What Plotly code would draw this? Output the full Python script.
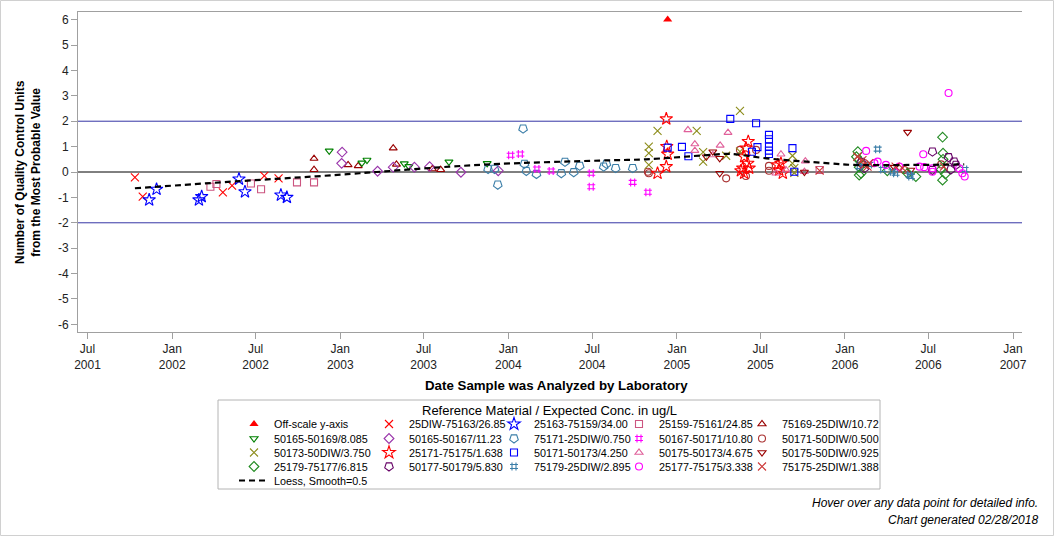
import plotly.graph_objects as go

# ---------------- data ----------------
offscale_x = ["2004-12-12"]
offscale_y = [6.0]

x_25diw_75163 = ["2001-10-12", "2001-10-29", "2002-04-21", "2002-05-11", "2002-07-20", "2002-08-20"]
y_25diw_75163 = [-0.21, -0.97, -0.80, -0.54, -0.15, -0.25]

x_25163_75159 = ["2001-11-12", "2001-11-28", "2002-02-28", "2002-03-06", "2002-05-26", "2002-06-08",
                 "2002-08-25", "2002-09-07"]
y_25163_75159 = [-1.10, -0.68, -1.10, -0.97, -0.28, -0.78, -0.91, -1.00]

x_25159_75161 = ["2002-03-25", "2002-04-07", "2002-06-21", "2002-07-13", "2002-09-29", "2002-11-05", "2005-11-07"]
y_25159_75161 = [-0.58, -0.47, -0.45, -0.68, -0.41, -0.41, 0.08]

x_75169_25diw = ["2002-11-05", "2002-11-05", "2003-01-18", "2003-02-09", "2003-04-26", "2003-05-03",
                 "2003-07-20", "2003-08-07"]
y_75169_25diw = [0.53, 0.09, 0.28, 0.24, 0.94, 0.30, 0.12, 0.09]

x_50165_50169 = ["2002-12-08", "2003-02-17", "2003-02-28", "2003-05-20", "2003-05-30", "2003-08-25", "2003-11-16"]
y_50165_50169 = [0.83, 0.36, 0.47, 0.33, 0.22, 0.40, 0.34]

x_50165_50167 = ["2003-01-05", "2003-01-04", "2003-03-23", "2003-04-26", "2003-06-11", "2003-07-14",
                 "2003-09-20", "2003-12-10"]
y_50165_50167 = [0.78, 0.34, 0.03, 0.19, 0.19, 0.21, -0.01, 0.05]

x_75171_25diw = ["2003-11-18", "2003-12-02", "2003-12-09", "2004-02-02", "2004-02-05", "2004-02-09",
                 "2004-03-02", "2004-04-25", "2004-05-03", "2004-05-22", "2004-06-04", "2004-07-26",
                 "2004-08-01", "2004-08-21", "2004-09-27"]
y_75171_25diw = [0.12, 0.12, -0.50, 1.71, 0.32, 0.04, -0.08, -0.05, 0.40, -0.01, 0.24, 0.21, 0.32, 0.15, 0.15]

x_50167_50171 = ["2004-01-06", "2004-01-27", "2004-03-03", "2004-04-03", "2004-06-29", "2004-06-29",
                 "2004-09-27", "2004-10-30"]
y_50167_50171 = [0.66, 0.71, 0.12, 0.04, -0.05, -0.58, -0.41, -0.80]

x_50171_50diw = ["2004-10-30", "2004-11-01", "2005-04-18", "2005-05-18", "2005-05-31", "2005-06-22",
                 "2005-07-20", "2005-07-20", "2006-02-08", "2006-05-10", "2006-07-29"]
y_50171_50diw = [0.01, -0.05, -0.25, 0.87, -0.16, 0.87, 0.24, 0.05, 0.30, 0.08, 0.30]

x_50173_50diw = ["2004-11-01", "2004-11-01", "2004-11-01", "2004-11-20", "2005-02-13", "2005-02-27",
                 "2005-02-27", "2005-04-18", "2005-05-18", "2005-05-18", "2005-09-09", "2005-09-09",
                 "2005-09-13", "2005-09-13"]
y_50173_50diw = [1.00, 0.74, 0.28, 1.62, 1.62, 0.78, 0.41, 0.64, 2.41, 0.80, 0.64, 0.34, 0.15, -0.03]

x_25171_75175 = ["2004-11-20", "2004-12-09", "2004-12-09", "2004-12-10", "2004-12-12", "2005-05-20",
                 "2005-05-24", "2005-05-27", "2005-05-27", "2005-05-31", "2005-06-04", "2005-06-05",
                 "2005-06-07", "2005-08-08", "2005-08-11", "2005-08-15", "2005-08-19"]
y_25171_75175 = [-0.05, 2.09, 0.21, 1.00, 0.70, 0.05, 0.15, 0.60, -0.05, 0.94, 0.34, 1.20, 0.15,
                 0.28, 0.08, 0.34, -0.05]

x_50171_50173 = ["2004-12-12", "2005-01-12", "2005-01-26", "2005-04-27", "2005-06-13", "2005-06-22",
                 "2005-06-25", "2005-07-20", "2005-07-20", "2005-07-20", "2005-07-20", "2005-07-20",
                 "2005-09-09", "2005-09-13"]
y_50171_50173 = [0.96, 0.99, 0.62, 2.09, 0.80, 1.92, 0.98, 1.46, 1.29, 1.00, 0.84, 0.71, 0.94, 0.01]

x_50175_50173 = ["2005-01-25", "2005-02-09", "2005-02-09", "2005-03-20", "2005-04-05", "2005-04-22",
                 "2005-08-04", "2005-08-15", "2005-08-26", "2005-10-05", "2005-10-07"]
y_50175_50173 = [1.66, 1.10, 0.84, 0.67, 1.05, 1.55, -0.05, 0.70, 0.08, 0.01, 0.43]

x_50175_50diw = ["2005-03-06", "2005-03-20", "2005-04-04", "2005-04-04", "2005-10-05", "2006-04-18",
                 "2006-05-17", "2006-05-24"]
y_50175_50diw = [0.60, 0.80, 0.54, -0.05, 0.00, 0.19, 1.57, 0.08]

x_25179_75177 = ["2006-01-26", "2006-01-29", "2006-01-31", "2006-02-01", "2006-02-01", "2006-02-05",
                 "2006-04-03", "2006-05-17", "2006-06-04", "2006-07-29", "2006-08-01", "2006-08-01",
                 "2006-08-02", "2006-08-02", "2006-08-07"]
y_25179_75177 = [0.60, 0.80, 0.47, 0.19, -0.12, -0.05, 0.05, -0.05, -0.18, 0.10, 1.37, -0.32, 0.74, 0.50, -0.08]

x_50177_50179 = ["2006-02-06", "2006-02-12", "2006-07-10", "2006-07-10", "2006-08-14", "2006-08-19",
                 "2006-08-26", "2006-08-30"]
y_50177_50179 = [0.40, 0.15, 0.80, 0.08, 0.58, 0.10, 0.41, 0.28]

x_75179_25diw = ["2006-02-01", "2006-02-23", "2006-03-13", "2006-03-24", "2006-04-14", "2006-04-21",
                 "2006-05-21", "2006-05-24", "2006-09-18"]
y_75179_25diw = [0.21, 0.30, 0.90, 0.10, 0.01, -0.05, -0.12, -0.18, 0.10]

x_25177_75175 = ["2006-02-16", "2006-03-06", "2006-03-13", "2006-03-31", "2006-04-29", "2006-06-12",
                 "2006-06-20", "2006-06-22", "2006-07-10", "2006-07-10", "2006-08-14", "2006-09-06",
                 "2006-09-13", "2006-09-18"]
y_25177_75175 = [0.83, 0.35, 0.41, 0.28, 0.21, 0.21, 0.70, 0.19, 0.15, 0.01, 3.11, 0.15, -0.05, -0.18]

x_75175_25diw = ["2005-11-07", "2006-01-28", "2006-02-08", "2006-02-12", "2006-02-19", "2006-02-23",
                 "2006-04-21", "2006-05-06", "2006-08-04"]
y_75175_25diw = [0.05, 0.60, 0.47, 0.28, 0.21, 0.35, 0.21, 0.15, 0.21]

loess_x = ["2001-10-12", "2002-05-27", "2002-11-02", "2003-02-12", "2003-03-21", "2003-08-26",
           "2003-12-13", "2004-07-17", "2004-10-26", "2005-03-04", "2005-04-26", "2005-07-14",
           "2005-11-28", "2006-01-17", "2006-06-12", "2006-09-17"]
loess_y = [-0.64, -0.36, -0.18, -0.05, 0.00, 0.21, 0.32, 0.45, 0.50, 0.66, 0.71, 0.54, 0.34, 0.28, 0.28, 0.30]

x_tick_vals = ["2001-07-01", "2002-01-01", "2002-07-01", "2003-01-01", "2003-07-01", "2004-01-01",
               "2004-07-01", "2005-01-01", "2005-07-01", "2006-01-01", "2006-07-01", "2007-01-01"]
x_tick_text = ["Jul<br>2001", "Jan<br>2002", "Jul<br>2002", "Jan<br>2003", "Jul<br>2003", "Jan<br>2004",
               "Jul<br>2004", "Jan<br>2005", "Jul<br>2005", "Jan<br>2006", "Jul<br>2006", "Jan<br>2007"]
y_tick_vals = [-6, -5, -4, -3, -2, -1, 0, 1, 2, 3, 4, 5, 6]
y_tick_text = ["-6", "-5", "-4", "-3", "-2", "-1", "0", "1", "2", "3", "4", "5", "6"]

# ---------------- styles ----------------
FONT = "Liberation Sans, Arial, Helvetica, sans-serif"
W, H = 1056, 538
ML, MR, MT, MB = 78, 34, 12, 206
PW, PH = W - ML - MR, H - MT - MB


def px_x(p):
    return (p - ML) / PW


def px_y(p):
    return 1 - (p - MT) / PH


# (name, x, y, legend row, symbol, colour, size, angle, legend width)
series = [
    ("25DIW-75163/26.85", x_25diw_75163, y_25diw_75163, "legend", "x-thin-open", "#ff0000", 8, 0, 80),
    ("25163-75159/34.00", x_25163_75159, y_25163_75159, "legend", "star-open", "#0000ff", 9.5, 0, 80),
    ("25159-75161/24.85", x_25159_75161, y_25159_75161, "legend", "square-open", "#cc5580", 7, 0, 78),
    ("75169-25DIW/10.72", x_75169_25diw, y_75169_25diw, "legend", "triangle-up-open", "#990000", 7, 0, 130),
    ("50165-50169/8.085", x_50165_50169, y_50165_50169, "legend2", "triangle-down-open", "#008000", 7, 0, 90),
    ("50165-50167/11.23", x_50165_50167, y_50165_50167, "legend2", "diamond-open", "#9933aa", 7.5, 0, 80),
    ("75171-25DIW/0.750", x_75171_25diw, y_75171_25diw, "legend2", "pentagon-open", "#3b7ea8", 9, 180, 80),
    ("50167-50171/10.80", x_50167_50171, y_50167_50171, "legend2", "hash-open", "#ff00ff", 8, 0, 78),
    ("50171-50DIW/0.500", x_50171_50diw, y_50171_50diw, "legend2", "circle-open", "#aa3333", 7, 0, 130),
    ("50173-50DIW/3.750", x_50173_50diw, y_50173_50diw, "legend3", "x-thin-open", "#8c8c1a", 8, 0, 90),
    ("25171-75175/1.638", x_25171_75175, y_25171_75175, "legend3", "star-open", "#ff0000", 9.5, 0, 80),
    ("50171-50173/4.250", x_50171_50173, y_50171_50173, "legend3", "square-open", "#0000ff", 7, 0, 80),
    ("50175-50173/4.675", x_50175_50173, y_50175_50173, "legend3", "triangle-up-open", "#e0609a", 7, 0, 78),
    ("50175-50DIW/0.925", x_50175_50diw, y_50175_50diw, "legend3", "triangle-down-open", "#990000", 7, 0, 130),
    ("25179-75177/6.815", x_25179_75177, y_25179_75177, "legend4", "diamond-open", "#228b22", 7.5, 0, 90),
    ("50177-50179/5.830", x_50177_50179, y_50177_50179, "legend4", "pentagon-open", "#660066", 9, 180, 80),
    ("75179-25DIW/2.895", x_75179_25diw, y_75179_25diw, "legend4", "hash-open", "#3b7ea8", 8, 0, 80),
    ("25177-75175/3.338", x_25177_75175, y_25177_75175, "legend4", "circle-open", "#ff00ff", 7, 0, 78),
    ("75175-25DIW/1.388", x_75175_25diw, y_75175_25diw, "legend4", "x-thin-open", "#cc3333", 8, 0, 130),
]

fig = go.Figure()

fig.add_trace(go.Scatter(
    x=offscale_x, y=offscale_y, mode="markers", name="Off-scale y-axis",
    legend="legend", legendwidth=90,
    marker=dict(symbol="triangle-up", size=8, color="#ff0000", line=dict(width=0)),
))

for name, xs, ys, leg, sym, col, size, ang, lw in series:
    fig.add_trace(go.Scatter(
        x=xs, y=ys, mode="markers", name=name, legend=leg, legendwidth=lw,
        marker=dict(symbol=sym, size=size, color=col, angle=ang,
                    line=dict(color=col, width=1.1)),
    ))

fig.add_trace(go.Scatter(
    x=loess_x, y=loess_y, mode="lines", name="Loess, Smooth=0.5", legend="legend5",
    line=dict(color="#000000", width=2.2, dash="6px,4px", shape="spline", smoothing=1.0),
    hoverinfo="skip",
))

AX = "#a0a0a0"
row_tops = [409.5, 424, 438, 452, 466]


def row_legend(top):
    return dict(
        orientation="h", x=px_x(234), xanchor="left", y=px_y(top), yanchor="top",
        bgcolor="rgba(0,0,0,0)", borderwidth=0, itemwidth=30, traceorder="normal",
        font=dict(family=FONT, size=10.8, color="#000000"),
    )


axis_font = dict(family=FONT, size=12, color="#222222")

fig.update_layout(
    width=W, height=H,
    margin=dict(l=ML, r=MR, t=MT, b=MB, autoexpand=False),
    paper_bgcolor="white", plot_bgcolor="white",
    font=dict(family=FONT, size=12, color="#000000"),
    showlegend=True,
    hovermode="closest",
    xaxis=dict(
        type="date", range=["2001-06-10 10:00", "2007-01-20 12:00"],
        tickmode="array", tickvals=x_tick_vals, ticktext=x_tick_text,
        ticks="outside", ticklen=6, tickcolor=AX, tickwidth=1,
        showline=True, linecolor=AX, linewidth=1, mirror=True,
        showgrid=False, zeroline=False, tickfont=axis_font,
    ),
    yaxis=dict(
        range=[-6.3, 6.3], tickmode="array", tickvals=y_tick_vals, ticktext=y_tick_text,
        ticks="outside", ticklen=6, tickcolor=AX, tickwidth=1,
        showline=True, linecolor=AX, linewidth=1,
        showgrid=False, zeroline=False, tickfont=axis_font,
    ),
    yaxis2=dict(
        overlaying="y", side="right", anchor="x",
        range=[-6.3, 6.3], tickmode="array", tickvals=y_tick_vals, ticktext=y_tick_text,
        ticks="outside", ticklen=6, tickcolor=AX, tickwidth=1,
        showline=True, linecolor=AX, linewidth=1,
        showgrid=False, zeroline=False, tickfont=axis_font,
    ),
    legend=row_legend(row_tops[0]),
    legend2=row_legend(row_tops[1]),
    legend3=row_legend(row_tops[2]),
    legend4=row_legend(row_tops[3]),
    legend5=row_legend(row_tops[4]),
)

# reference lines
fig.add_shape(type="line", xref="paper", yref="y", x0=0, x1=1, y0=0, y1=0,
              line=dict(color="#000000", width=1), layer="below")
for lvl in (2, -2):
    fig.add_shape(type="line", xref="paper", yref="y", x0=0, x1=1, y0=lvl, y1=lvl,
                  line=dict(color="#3535a5", width=1), layer="below")

# legend frame and outer frame
fig.add_shape(type="rect", xref="paper", yref="paper",
              x0=px_x(218), x1=px_x(880), y0=px_y(489), y1=px_y(400),
              line=dict(color="#b4b4b4", width=1), fillcolor="rgba(0,0,0,0)")
fig.add_shape(type="rect", xref="paper", yref="paper",
              x0=px_x(0.5), x1=px_x(1053.5), y0=px_y(535.5), y1=px_y(0.5),
              line=dict(color="#d0d0d0", width=1), fillcolor="rgba(0,0,0,0)")

# texts
fig.add_annotation(text="<b>Number of Quality Control Units<br>from the Most Probable Value</b>",
                   xref="paper", yref="paper", x=px_x(28), y=0.5, textangle=-90,
                   xanchor="center", yanchor="middle", showarrow=False,
                   font=dict(family=FONT, size=12, color="#000000"))
fig.add_annotation(text="<b>Date Sample was Analyzed by Laboratory</b>",
                   xref="paper", yref="paper", x=px_x(556), y=px_y(385),
                   xanchor="center", yanchor="middle", showarrow=False,
                   font=dict(family=FONT, size=13.3, color="#000000"))
fig.add_annotation(text="Reference Material / Expected Conc. in ug/L",
                   xref="paper", yref="paper", x=px_x(549), y=px_y(410.5),
                   xanchor="center", yanchor="middle", showarrow=False,
                   font=dict(family=FONT, size=13, color="#000000"))
fig.add_annotation(text="<i>Hover over any data point for detailed info.</i>",
                   xref="paper", yref="paper", x=px_x(1040), y=px_y(503),
                   xanchor="right", yanchor="middle", showarrow=False,
                   font=dict(family=FONT, size=12, color="#000000"))
fig.add_annotation(text="<i>Chart generated 02/28/2018</i>",
                   xref="paper", yref="paper", x=px_x(1040), y=px_y(520),
                   xanchor="right", yanchor="middle", showarrow=False,
                   font=dict(family=FONT, size=12, color="#000000"))

fig.write_html("out.html")
